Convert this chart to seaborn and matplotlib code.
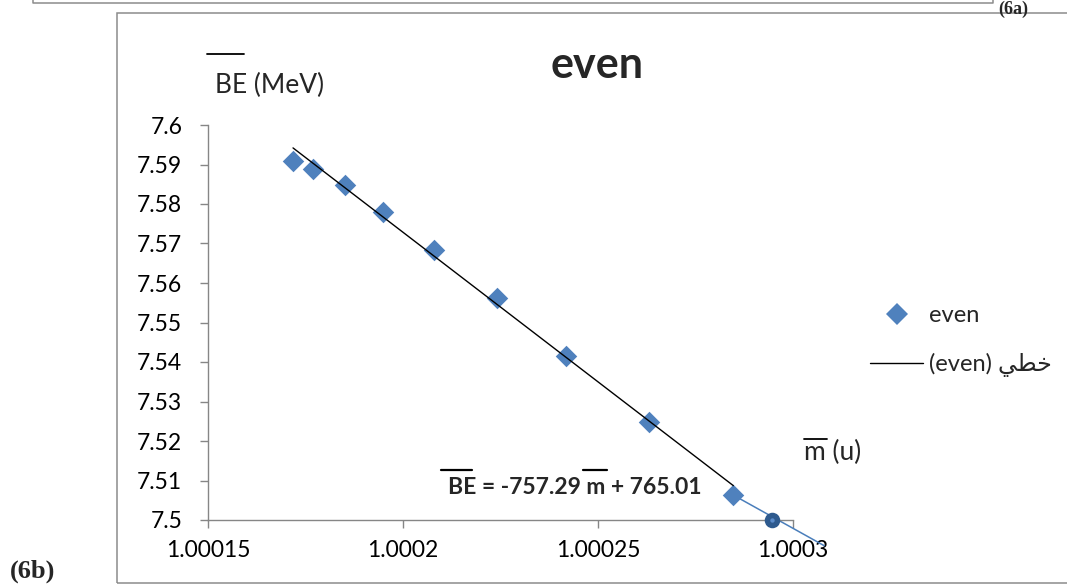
import numpy as np
import pandas as pd
import seaborn as sns
import matplotlib
matplotlib.use("Agg")
import matplotlib.pyplot as plt
from matplotlib.lines import Line2D
from matplotlib.patches import Rectangle

# ---- data -------------------------------------------------------------
mass = [1.0001718, 1.000177, 1.000185, 1.000195, 1.000208,
        1.000224, 1.0002418, 1.000263, 1.0002847]
be = [7.5910, 7.5888, 7.5847, 7.5780, 7.5684,
      7.5561, 7.5415, 7.5248, 7.5063]

# linear trend of the even series: BE = slope * m + intercept
slope = -757.29
intercept = 765.0143

# continuation segment and the point where it meets the axis
ext_mass = [1.0002847, 1.000308]
ext_be = [7.5063, 7.4935]
cross_mass = [1.0002947]
cross_be = [7.5]

x_ticks = [1.00015, 1.0002, 1.00025, 1.0003]
x_tick_labels = ["1.00015", "1.0002", "1.00025", "1.0003"]
y_ticks = [7.5, 7.51, 7.52, 7.53, 7.54, 7.55, 7.56, 7.57, 7.58, 7.59, 7.6]
y_tick_labels = ["7.5", "7.51", "7.52", "7.53", "7.54", "7.55",
                 "7.56", "7.57", "7.58", "7.59", "7.6"]

title = "even"
series_label = "even"
trend_label = "(even) \uFEF2\uFEC4\uFEA7"   # خطي (even), shaped for LTR drawing
y_label = "BE (MeV)"
x_label = "m (u)"
eq_text = "BE = -757.29 m + 765.01"

# ---- style ------------------------------------------------------------
sns.set_theme(style="white")
plt.rcParams["font.family"] = ["Lato", "DejaVu Sans"]

W, H = 1067, 585
fig = plt.figure(figsize=(W / 100, H / 100), dpi=100)


def fx(x):
    return x / W


def fy(y):
    return 1 - y / H


blue = "#4F81BD"
dark_blue = "#2E5A8E"
grey = "#868686"

ax = fig.add_axes([fx(208), fy(520), fx(793) - fx(208), fy(125) - fy(520)])

df = pd.DataFrame({"mass": mass, "be": be})
trend_x = np.array([min(mass), max(mass)])
trend = pd.DataFrame({"mass": trend_x, "be": slope * trend_x + intercept})
ext = pd.DataFrame({"mass": ext_mass, "be": ext_be})
cross = pd.DataFrame({"mass": cross_mass, "be": cross_be})

sns.lineplot(data=ext, x="mass", y="be", ax=ax, color="#4A7EBB",
             linewidth=1.1, clip_on=False, zorder=2, sort=False)
sns.scatterplot(data=df, x="mass", y="be", ax=ax, marker="D", s=120,
                color=blue, linewidth=0, zorder=3, legend=False)
sns.lineplot(data=trend, x="mass", y="be", ax=ax, color="black",
             linewidth=1.0, zorder=4)
sns.scatterplot(data=cross, x="mass", y="be", ax=ax, marker="o", s=125,
                color=dark_blue, linewidth=0, zorder=5, clip_on=False,
                legend=False)
sns.scatterplot(data=cross, x="mass", y="be", ax=ax, marker="o", s=10,
                color="#5B8CCB", linewidth=0, zorder=6, clip_on=False,
                legend=False)

ax.set_xlim(x_ticks[0], x_ticks[-1])
ax.set_ylim(y_ticks[0], y_ticks[-1])
ax.set_xticks(x_ticks)
ax.set_xticklabels(x_tick_labels)
ax.set_yticks(y_ticks)
ax.set_yticklabels(y_tick_labels)
ax.set_xlabel("")
ax.set_ylabel("")
ax.tick_params(axis="both", direction="out", length=5.5, width=1,
               color=grey, labelsize=16.5, labelcolor="black", bottom=True,
               left=True)
ax.tick_params(axis="y", pad=13)
ax.tick_params(axis="x", pad=9)
for side in ("top", "right"):
    ax.spines[side].set_visible(False)
for side in ("left", "bottom"):
    ax.spines[side].set_color(grey)
    ax.spines[side].set_linewidth(1.0)
ax.set_facecolor("none")

# ---- texts ------------------------------------------------------------
fig.text(fx(597), fy(78), title, fontsize=31, fontweight="bold",
         ha="center", va="baseline")
fig.text(fx(215), fy(93), y_label, fontsize=19, ha="left", va="baseline")
fig.text(fx(804), fy(460), x_label, fontsize=19, ha="left", va="baseline")
fig.text(fx(448), fy(494), eq_text, fontsize=16.5, fontweight="bold",
         ha="left", va="baseline")


def bar(x0, x1, y, lw=1.3):
    fig.add_artist(Line2D([fx(x0), fx(x1)], [fy(y), fy(y)],
                          transform=fig.transFigure, color="black", lw=lw))


bar(207, 244, 54)
bar(804, 827, 439)
bar(441, 472, 470, lw=1.6)
bar(583, 607, 470, lw=1.6)

# ---- legend -----------------------------------------------------------
handles = [
    Line2D([], [], marker="D", ls="none", color=blue, markersize=11,
           markeredgewidth=0),
    Line2D([], [], color="black", lw=1.0),
]
fig.legend(handles, [series_label, trend_label], loc="center left",
           bbox_to_anchor=(fx(870), fy(341)), frameon=False, fontsize=17,
           handlelength=2.25, handletextpad=0.25, labelspacing=1.15,
           borderpad=0, borderaxespad=0)

# ---- surrounding frames and panel tags ------------------------------
fig.add_artist(Rectangle((fx(117), fy(583)), fx(1075) - fx(117),
                         fy(13) - fy(583), transform=fig.transFigure,
                         fill=False, edgecolor="#8C8C8C", lw=1.1))
fig.add_artist(Line2D([fx(33), fx(33), fx(993), fx(993)],
                      [fy(-2), fy(3), fy(3), fy(-2)],
                      transform=fig.transFigure, color="#8C8C8C", lw=1.1))
fig.text(fx(998), fy(0.5), "(6a)", fontsize=13, fontweight="bold",
         family="Liberation Serif", ha="left", va="top")
fig.text(fx(10), fy(583), "(6b)", fontsize=19, fontweight="bold",
         family="Liberation Serif", ha="left", va="bottom")

fig.savefig("out.png", dpi=100)
